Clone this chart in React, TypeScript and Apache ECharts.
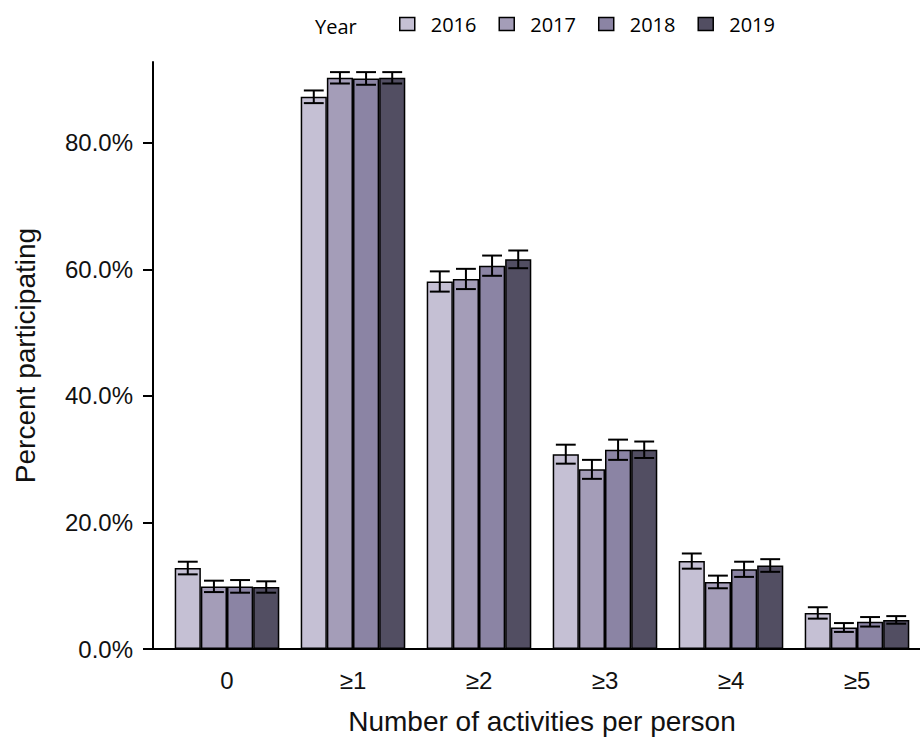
import React, { useEffect, useRef } from "react";
import * as echarts from "echarts";

const categories = ["0", "≥1", "≥2", "≥3", "≥4", "≥5"];
const years = ["2016", "2017", "2018", "2019"];
const values2016 = [12.8, 87.3, 58.1, 30.8, 13.9, 5.7];
const values2017 = [9.9, 90.3, 58.5, 28.4, 10.6, 3.4];
const values2018 = [9.9, 90.2, 60.6, 31.5, 12.6, 4.3];
const values2019 = [9.8, 90.3, 61.6, 31.5, 13.2, 4.6];
const err2016 = [1.0, 1.0, 1.6, 1.5, 1.2, 0.9];
const err2017 = [0.9, 0.9, 1.6, 1.5, 1.0, 0.7];
const err2018 = [1.0, 1.0, 1.6, 1.6, 1.2, 0.75];
const err2019 = [0.9, 0.9, 1.4, 1.3, 1.0, 0.6];
const yTicks = [0, 20, 40, 60, 80];
const colors = ["#c5c0d4", "#a49db8", "#8b84a4", "#524e62"];

const allValues = [values2016, values2017, values2018, values2019];
const allErrs = [err2016, err2017, err2018, err2019];

const BAR_FRAC = 0.2075;

export default function App() {
  const ref = useRef<HTMLDivElement>(null);
  useEffect(() => {
    if (!ref.current) return;
    const chart = echarts.init(ref.current, null, { renderer: "svg" });
    const barSeries = years.map((y, j) => ({
      name: y,
      type: "bar",
      data: allValues[j],
      barWidth: (BAR_FRAC * 100).toFixed(2) + "%",
      barGap: "0%",
      itemStyle: { color: colors[j], borderColor: "#000", borderWidth: 1.5 },
      z: 2,
    }));
    const errSeries = years.map((y, j) => ({
      type: "custom",
      name: y + " err",
      data: allValues[j].map((v, i) => [i, v, allErrs[j][i]]),
      z: 5,
      renderItem: (params: any, api: any) => {
        const i = api.value(0);
        const v = api.value(1);
        const e = api.value(2);
        const band = api.size([1, 0])[0];
        const bw = band * BAR_FRAC;
        const c = api.coord([i, v]);
        const x = c[0] + (j - 1.5) * bw;
        const top = api.coord([i, v + e])[1];
        const bot = api.coord([i, v - e])[1];
        const hw = bw * 0.38;
        const st = { stroke: "#000", lineWidth: 2 };
        return {
          type: "group",
          children: [
            { type: "line", shape: { x1: x, y1: top, x2: x, y2: bot }, style: st },
            { type: "line", shape: { x1: x - hw, y1: top, x2: x + hw, y2: top }, style: st },
            { type: "line", shape: { x1: x - hw, y1: bot, x2: x + hw, y2: bot }, style: st },
          ],
        };
      },
    }));
    chart.setOption({
      animation: false,
      textStyle: { fontFamily: "Liberation Sans" },
      grid: { left: 164, right: 0, top: 62, bottom: 94, containLabel: false },
      legend: {
        data: years,
        left: 394,
        top: 9,
        icon: "rect",
        itemWidth: 15,
        itemHeight: 13,
        itemGap: 22,
        itemStyle: { borderColor: "#000", borderWidth: 1.5 },
        textStyle: {
          fontFamily: "Open Sans",
          fontSize: 20,
          color: "#000",
          width: 45,
          padding: [0, 0, 8, 11],
        },
      },
      graphic: [
        {
          type: "text",
          left: 315,
          top: 16,
          style: { text: "Year", fontFamily: "Open Sans", fontSize: 20, fill: "#000" },
        },
        {
          type: "line",
          shape: { x1: 153, y1: 649, x2: 165, y2: 649 },
          style: { stroke: "#000", lineWidth: 2 },
        },
      ],
      xAxis: {
        type: "category",
        data: categories,
        axisLine: { lineStyle: { color: "#000", width: 2 } },
        axisTick: { alignWithLabel: true, length: 10, lineStyle: { color: "#000", width: 2 } },
        axisLabel: { fontSize: 24, color: "#111", margin: 19, fontFamily: "Liberation Sans" },
        name: "Number of activities per person",
        nameLocation: "middle",
        nameGap: 58,
        nameTextStyle: { fontSize: 28, color: "#111", fontFamily: "Liberation Sans" },
      },
      yAxis: {
        type: "value",
        min: 0,
        max: 92.8,
        interval: 20,
        offset: 11,
        splitLine: { show: false },
        axisLine: { show: true, lineStyle: { color: "#000", width: 2 } },
        axisTick: { show: true, length: 10, customValues: yTicks, lineStyle: { color: "#000", width: 2 } },
        axisLabel: {
          fontSize: 24,
          color: "#111",
          margin: 20,
          customValues: yTicks,
          formatter: (v: number) => v.toFixed(1) + "%",
          fontFamily: "Liberation Sans",
        },
        name: "Percent participating",
        nameLocation: "middle",
        nameGap: 114,
        nameRotate: 90,
        nameTextStyle: { fontSize: 28, color: "#111", fontFamily: "Liberation Sans" },
      },
      series: [...barSeries, ...errSeries],
    });
    return () => chart.dispose();
  }, []);
  return <div ref={ref} style={{ width: 920, height: 743, position: "absolute", left: 0, top: 0 }} />;
}
